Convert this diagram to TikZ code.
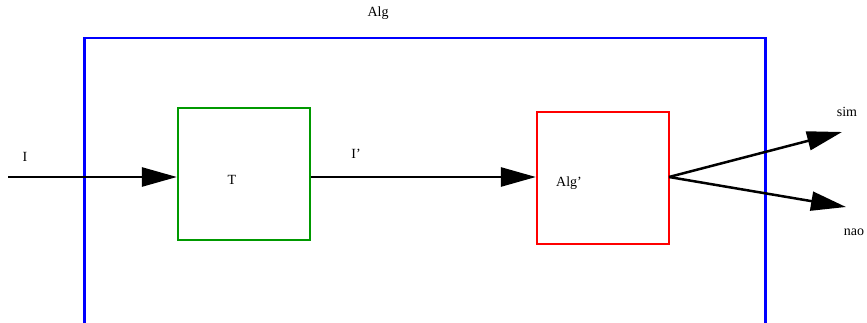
\documentclass[tikz,border=0pt]{standalone}
\usepackage{fontspec}
\setmainfont{Liberation Serif}
\usetikzlibrary{arrows.meta}

\begin{document}
\begin{tikzpicture}[x=1pt, y=-1pt, >={Triangle[length=35pt, width=19pt]}, line width=2.5pt,
  outerbox/.style={draw=blue, line width=2.5pt, minimum width=681pt, minimum height=290pt,
                   inner sep=0pt, anchor=north west},
  blockbox/.style={draw=#1, line width=2.2pt, minimum width=132pt, minimum height=132pt,
                   inner sep=0pt},
  lbl/.style={font=\fontsize{14}{16}\selectfont, inner sep=0pt},
  conn/.style={black, line width=2.5pt, ->}
]

\useasboundingbox (0,0) rectangle (867,323);

% Outer block
\node[outerbox] (alg) at (83,37) {};
\node[lbl] (alglbl) at (378,13) {Alg};

% Inner blocks
\node[blockbox={green!60!black}] (tbox) at (244,174) {};
\node[blockbox=red] (algp) at (603,178) {};
\node[lbl] (tlbl) at (232,180) {T};
\node[lbl] (algplbl) at (569,183) {Alg'};

% Ends of the free connectors
\coordinate (in) at (8,177);
\coordinate (sim) at (842,132);
\coordinate (nao) at (846,207);
\coordinate (algpout) at (669,177);

% Connections
\draw[conn] (in) -- (in -| tbox.west);
\draw[conn] (in -| tbox.east) -- (in -| algp.west);
\draw[conn] (algpout) -- (sim);
\draw[conn] (algpout) -- (nao);

% Labels
\node[lbl] (ilbl) at (25,157) {I};
\node[lbl] (iplbl) at (356,154) {I'};
\node[lbl] (simlbl) at (847,112) {sim};
\node[lbl] (naolbl) at (854,232) {nao};

\end{tikzpicture}
\end{document}
